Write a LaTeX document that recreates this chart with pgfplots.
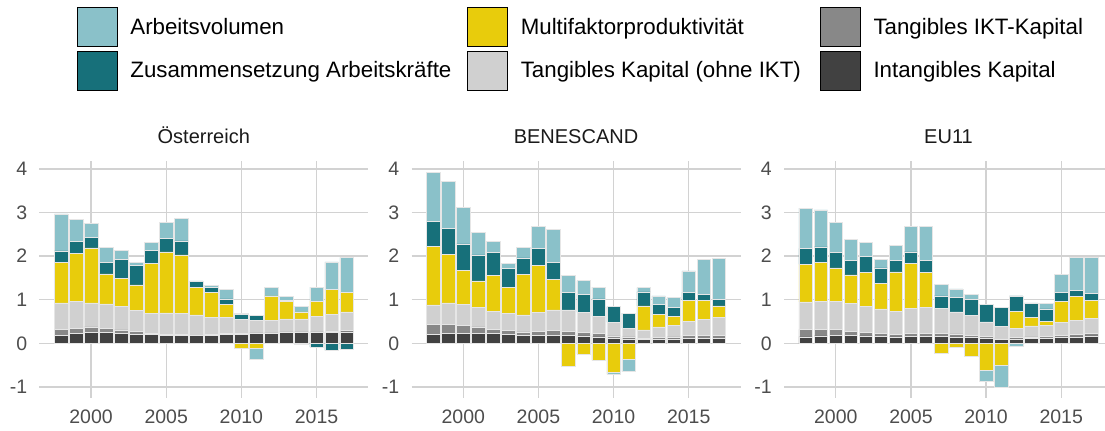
\documentclass[border=0pt]{standalone}
\usepackage{pgfplots}
\pgfplotsset{compat=1.18}
\usepackage{pgfplotstable}
\usepackage{fontspec}
\setmainfont{Liberation Sans}

\definecolor{cAV}{HTML}{8AC1C9}
\definecolor{cZus}{HTML}{17707A}
\definecolor{cMFP}{HTML}{E8CC0C}
\definecolor{cTK}{HTML}{D0D0D0}
\definecolor{cIKT}{HTML}{888888}
\definecolor{cIK}{HTML}{414141}
\definecolor{gridc}{HTML}{D2D2D2}
\definecolor{tickc}{HTML}{4D4D4D}
\definecolor{titlec}{HTML}{1A1A1A}
\definecolor{barline}{HTML}{E6E6E6}

\newcommand\legfont{\fontsize{22.3bp}{26bp}\selectfont}
\newcommand\tickfont{\fontsize{19.5bp}{23bp}\selectfont}
\newcommand\titlefont{\fontsize{20bp}{24bp}\selectfont}

% year, intangibles, IKT, tangibles (ohne IKT), MFP, Zusammensetzung, Arbeitsvolumen
\pgfplotstableread{
year ik ikt tk mfp zus av
1998 0.19 0.13 0.61 0.92 0.27 0.85
1999 0.22 0.13 0.61 1.11 0.27 0.50
2000 0.245 0.13 0.555 1.26 0.24 0.32
2001 0.245 0.10 0.56 0.69 0.26 0.35
2002 0.23 0.08 0.53 0.65 0.44 0.21
2003 0.21 0.06 0.49 0.58 0.44 0.07
2004 0.21 0.02 0.46 1.145 0.305 0.17
2005 0.18 0.03 0.49 1.40 0.30 0.37
2006 0.18 0.02 0.49 1.34 0.32 0.51
2007 0.175 0.01 0.47 0.63 0.13 0.02
2008 0.19 0.01 0.40 0.57 0.11 0.05
2009 0.21 0.01 0.38 0.29 0.13 0.22
2010 0.21 0.01 0.33 -0.12 0.12 0.01
2011 0.23 0.01 0.28 -0.11 0.12 -0.26
2012 0.23 0.01 0.28 0.57 0.0 0.20
2013 0.25 0.01 0.30 0.40 0.03 0.08
2014 0.25 0.01 0.30 0.16 -0.03 0.13
2015 0.245 0.015 0.36 0.35 -0.09 0.32
2016 0.245 0.025 0.39 0.57 -0.16 0.64
2017 0.26 0.03 0.43 0.44 -0.13 0.81
}\tabAT

\pgfplotstableread{
year ik ikt tk mfp zus av
1998 0.21 0.23 0.44 1.34 0.57 1.13
1999 0.23 0.21 0.49 1.11 0.60 1.08
2000 0.23 0.18 0.49 0.78 0.60 0.84
2001 0.23 0.145 0.455 0.60 0.60 0.52
2002 0.22 0.10 0.41 0.82 0.54 0.25
2003 0.20 0.10 0.38 0.60 0.44 0.11
2004 0.18 0.08 0.39 0.93 0.38 0.24
2005 0.19 0.09 0.43 1.08 0.38 0.51
2006 0.19 0.11 0.465 0.695 0.39 0.76
2007 0.18 0.10 0.485 -0.535 0.41 0.38
2008 0.17 0.075 0.465 -0.25 0.41 0.32
2009 0.15 0.08 0.39 -0.39 0.40 0.27
2010 0.11 0.06 0.31 -0.67 0.36 -0.04
2011 0.10 0.045 0.205 -0.375 0.34 -0.275
2012 0.085 0.03 0.195 0.55 0.32 0.10
2013 0.09 0.05 0.235 0.285 0.235 0.195
2014 0.10 0.05 0.27 0.19 0.215 0.225
2015 0.115 0.065 0.325 0.485 0.18 0.49
2016 0.12 0.07 0.36 0.44 0.13 0.81
2017 0.12 0.07 0.41 0.26 0.15 0.94
}\tabBS

\pgfplotstableread{
year ik ikt tk mfp zus av
1998 0.15 0.17 0.63 0.86 0.37 0.92
1999 0.17 0.15 0.64 0.89 0.36 0.85
2000 0.175 0.145 0.64 0.77 0.35 0.69
2001 0.175 0.105 0.64 0.65 0.34 0.475
2002 0.17 0.075 0.595 0.79 0.37 0.32
2003 0.155 0.075 0.56 0.585 0.355 0.20
2004 0.145 0.065 0.53 0.90 0.26 0.355
2005 0.155 0.065 0.59 1.025 0.265 0.59
2006 0.155 0.075 0.60 0.80 0.28 0.77
2007 0.155 0.075 0.57 -0.23 0.29 0.27
2008 0.145 0.07 0.505 -0.09 0.335 0.195
2009 0.14 0.05 0.445 -0.30 0.375 0.115
2010 0.12 0.035 0.335 -0.62 0.405 -0.25
2011 0.10 0.02 0.26 -0.50 0.44 -0.51
2012 0.10 0.03 0.22 0.38 0.36 -0.07
2013 0.115 0.03 0.255 0.20 0.32 0.01
2014 0.12 0.04 0.26 0.09 0.28 0.12
2015 0.13 0.045 0.305 0.475 0.215 0.41
2016 0.145 0.06 0.315 0.55 0.15 0.76
2017 0.17 0.05 0.36 0.41 0.16 0.82
}\tabEU

\pgfplotsset{
  panel/.style={
    scale only axis, width=329bp, height=236.7bp, anchor=south west,
    xmin=1996.555, xmax=2018.445, ymin=-1.25, ymax=4.18,
    ybar stacked, bar width=0.9,
    every axis plot/.append style={draw=barline, line width=0.5bp},
  },
  gridax/.style={
    axis line style={draw=none}, major tick length=0pt,
    xtick={2000,2005,2010,2015}, ytick={-1,0,1,2,3,4},
    grid=major, major grid style={draw=gridc, line width=1.3bp},
    /pgf/number format/assume math mode=true,
    /pgf/number format/1000 sep={},
    ticklabel style={font=\tickfont, text=tickc},
    xticklabel style={anchor=base, inner sep=0pt, yshift=-26bp},
    yticklabel style={anchor=east, inner sep=0pt, xshift=-12bp},
    title style={at={(0.5,1)}, anchor=base, inner sep=0pt, yshift=12bp, font=\titlefont, text=titlec},
  },
  negax/.style={hide axis},
}

\newcommand\posbars[1]{%
  \addplot[fill=cIK]  table[x=year, y=ik] #1;
  \addplot[fill=cIKT] table[x=year, y=ikt] #1;
  \addplot[fill=cTK]  table[x=year, y=tk] #1;
  \addplot[fill=cMFP] table[x=year, y expr={max(\thisrow{mfp},0)}] #1;
  \addplot[fill=cZus] table[x=year, y expr={max(\thisrow{zus},0)}] #1;
  \addplot[fill=cAV]  table[x=year, y expr={max(\thisrow{av},0)}] #1;
}
\newcommand\negbars[1]{%
  \addplot[fill=cMFP] table[x=year, y expr={min(\thisrow{mfp},0)}] #1;
  \addplot[fill=cZus] table[x=year, y expr={min(\thisrow{zus},0)}] #1;
  \addplot[fill=cAV]  table[x=year, y expr={min(\thisrow{av},0)}] #1;
}

\begin{document}
\begin{tikzpicture}[x=1bp,y=1bp]
\useasboundingbox (0,0) rectangle (1105,430);

% Panel 1
\begin{axis}[panel, gridax, at={(39.3bp,32.2bp)}, title={Österreich}]
\posbars{\tabAT}
\end{axis}
\begin{axis}[panel, negax, at={(39.3bp,32.2bp)}]
\negbars{\tabAT}
\end{axis}

% Panel 2
\begin{axis}[panel, gridax, at={(411.5bp,32.2bp)}, title={BENESCAND}]
\posbars{\tabBS}
\end{axis}
\begin{axis}[panel, negax, at={(411.5bp,32.2bp)}]
\negbars{\tabBS}
\end{axis}

% Panel 3
\begin{axis}[panel, gridax, at={(784bp,32.2bp)}, title={EU11}]
\posbars{\tabEU}
\end{axis}
\begin{axis}[panel, negax, at={(784bp,32.2bp)}]
\negbars{\tabEU}
\end{axis}

% Legend
\begin{axis}[hide axis, scale only axis, width=10bp, height=10bp,
  at={(76.7bp,422.7bp)}, anchor=north west,
  xmin=0, xmax=1, ymin=0, ymax=1,
  legend columns=3,
  legend style={at={(0,1)}, anchor=north west, draw=none, fill=none,
    inner sep=0pt, outer sep=0pt, row sep=4bp, font=\legfont,
    nodes={inner sep=0pt, anchor=west},
    /tikz/every odd column/.append style={column sep=13.3bp},
    /tikz/every even column/.append style={column sep=0bp}},
  legend image code/.code={\fill[#1] (0bp,-19.5bp) rectangle (40bp,19.5bp);},
]
\addlegendimage{fill=cAV}\addlegendentry{\makebox[336.7bp][l]{Arbeitsvolumen}}
\addlegendimage{fill=cMFP}\addlegendentry{\makebox[299bp][l]{Multifaktorproduktivität}}
\addlegendimage{fill=cIKT}\addlegendentry{Tangibles IKT-Kapital}
\addlegendimage{fill=cZus}\addlegendentry{\makebox[336.7bp][l]{Zusammensetzung Arbeitskräfte}}
\addlegendimage{fill=cTK}\addlegendentry{\makebox[299bp][l]{Tangibles Kapital (ohne IKT)}}
\addlegendimage{fill=cIK}\addlegendentry{Intangibles Kapital}
\end{axis}
\end{tikzpicture}
\end{document}
